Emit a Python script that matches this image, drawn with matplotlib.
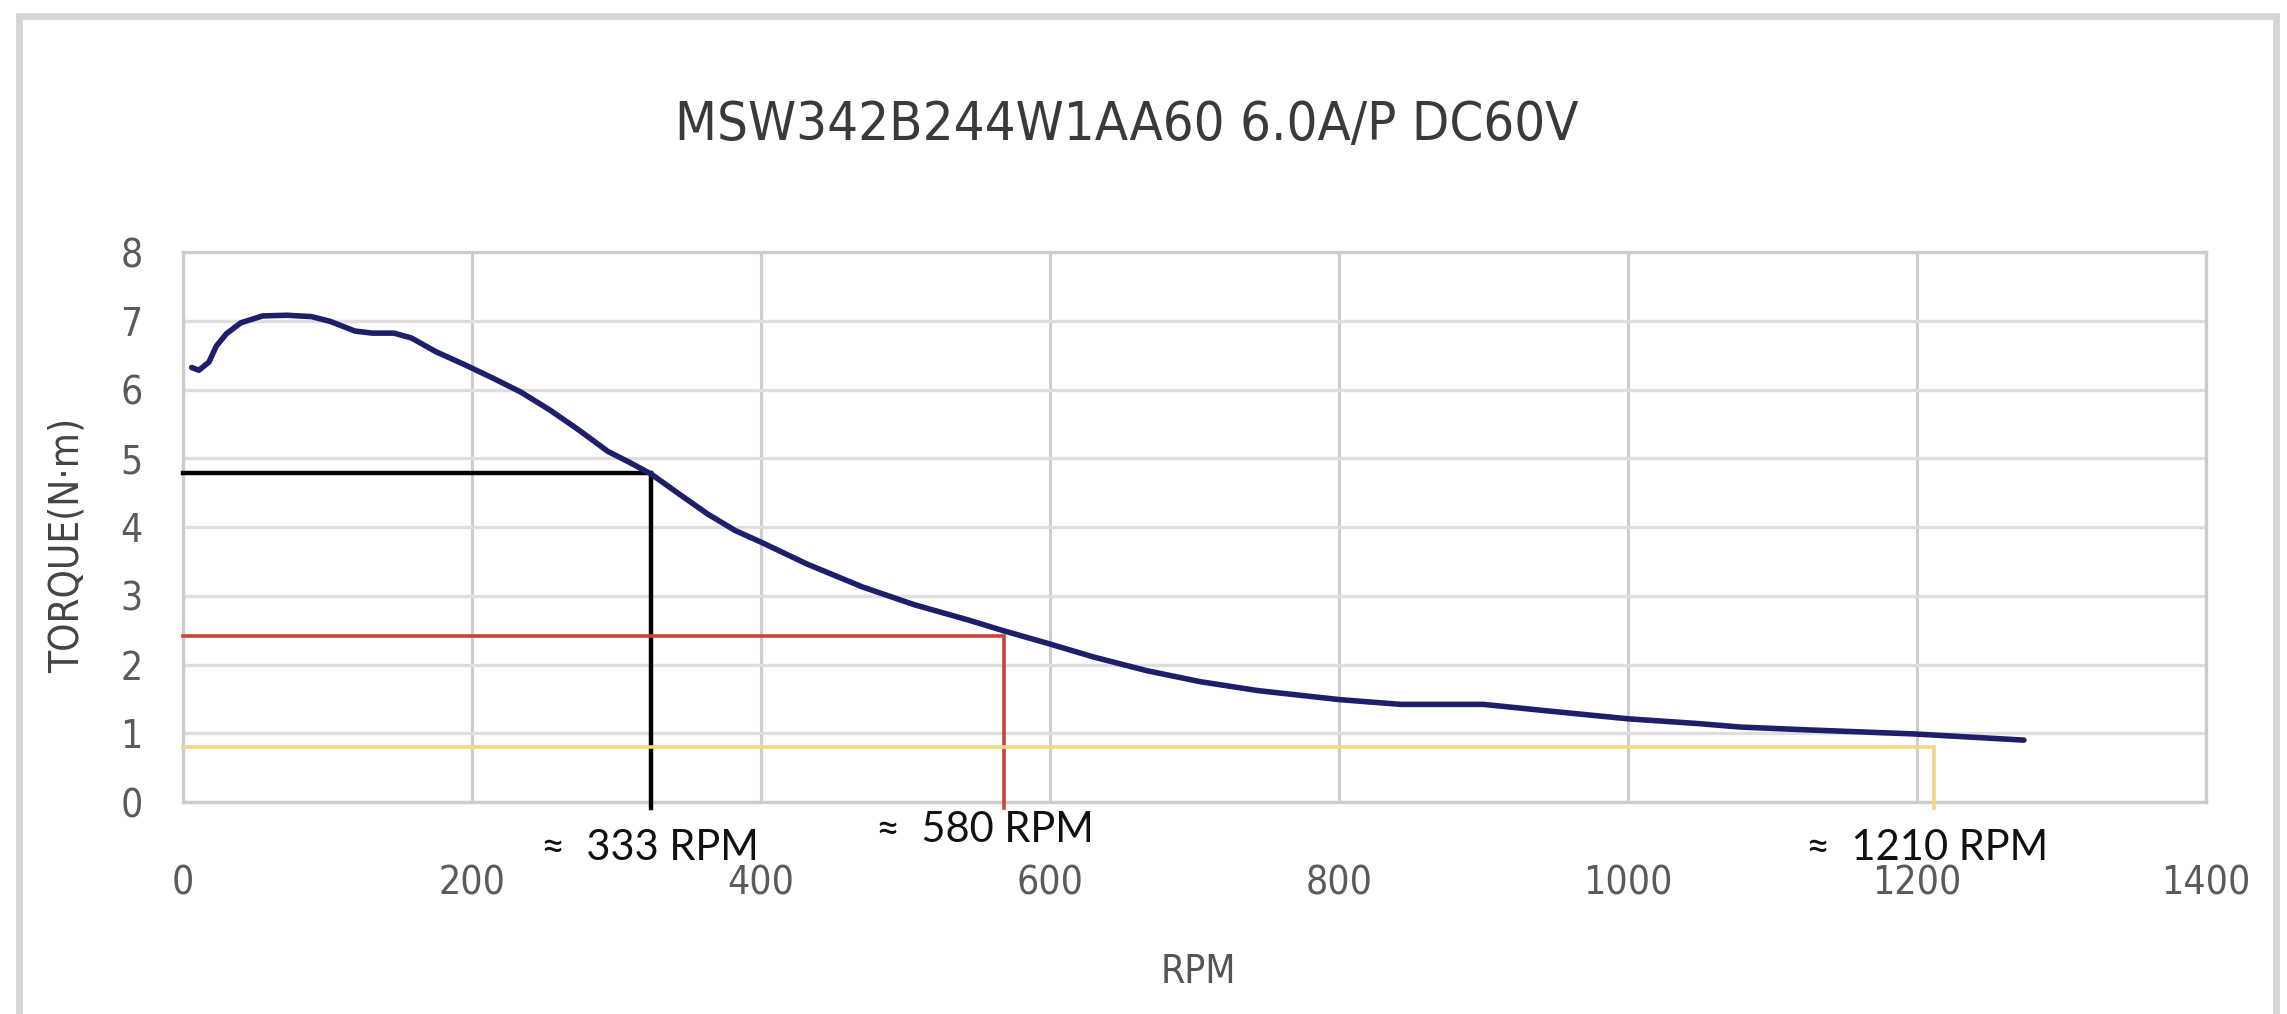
import matplotlib
matplotlib.use("Agg")
import matplotlib.pyplot as plt
from matplotlib.patches import Rectangle

# ---- data ----
rpm = [6, 11, 18, 23, 30, 40, 55, 72, 89, 102, 119, 131, 146, 158, 175, 195,
       214, 234, 254, 274, 294, 309, 324, 344, 363, 382, 400, 432, 470, 506,
       543, 568, 598, 630, 667, 704, 744, 800, 818, 843, 900, 942, 1000, 1028,
       1049, 1078, 1123, 1198, 1274]
torque = [6.32, 6.28, 6.40, 6.63, 6.81, 6.97, 7.07, 7.08, 7.06, 6.99, 6.85,
          6.82, 6.82, 6.75, 6.55, 6.36, 6.17, 5.96, 5.70, 5.41, 5.10, 4.94,
          4.77, 4.47, 4.19, 3.95, 3.78, 3.46, 3.13, 2.87, 2.65, 2.49, 2.31,
          2.11, 1.91, 1.75, 1.62, 1.49, 1.46, 1.42, 1.42, 1.33, 1.21, 1.17,
          1.14, 1.09, 1.05, 0.99, 0.90]

marker_rpm = [324, 568, 1212]
marker_torque = [4.78, 2.41, 0.80]
marker_labels = ["\u2248  333 RPM", "\u2248  580 RPM", "\u2248  1210 RPM"]
marker_colors = ["#000000", "#c9433a", "#f2d585"]

x_ticks = [0, 200, 400, 600, 800, 1000, 1200, 1400]
y_ticks = [0, 1, 2, 3, 4, 5, 6, 7, 8]

title = "MSW342B244W1AA60 6.0A/P DC60V"
xlabel = "RPM"
ylabel = "TORQUE(N\u00b7m)"

plt.rcParams['font.family'] = ["DejaVu Sans"]
plt.rcParams['font.stretch'] = "condensed"

W, H = 2287, 1014
fig = plt.figure(figsize=(W / 100, H / 100), dpi=100)
fig.patch.set_facecolor("white")

# outer light-gray frame (bottom edge runs off the picture)
fig.patches.append(Rectangle((19 / W, -20 / H), (2276 - 19) / W, (1014 - 16 + 20) / H,
                             transform=fig.transFigure, fill=False,
                             edgecolor="#d6d6d6", linewidth=5))

ax = fig.add_axes([183 / W, 1 - 802 / H, (2206 - 183) / W, (802 - 252) / H])
ax.set_xlim(0, 1400)
ax.set_ylim(0, 8)

ax.set_xticks(x_ticks)
ax.set_yticks(y_ticks)
ax.set_xticklabels([str(v) for v in x_ticks])
ax.set_yticklabels([str(v) for v in y_ticks])
ax.tick_params(axis="both", length=0, labelcolor="#5a5a5a", labelsize=28)
ax.tick_params(axis="x", pad=45)
ax.tick_params(axis="y", pad=29)

ax.grid(axis="y", color="#dedede", linewidth=2.4)
ax.grid(axis="x", color="#cdcdcd", linewidth=2.2)
ax.set_axisbelow(True)
for s in ax.spines.values():
    s.set_color("#cccccc")
    s.set_linewidth(2.4)

# reference lines
for xr, yr, c in zip(marker_rpm, marker_torque, marker_colors):
    lw = 3.2 if c == "#000000" else 2.6
    ax.plot([0, xr, xr], [yr, yr, -0.08], color=c, linewidth=lw,
            solid_joinstyle="miter", clip_on=False, zorder=3)

# torque curve
ax.plot(rpm, torque, color="#1e1e6a", linewidth=4.0, solid_capstyle="round",
        solid_joinstyle="round", zorder=4)

# annotations
label_pos = [(650, 848), (985, 830), (1927, 848)]
for (px, py), txt in zip(label_pos, marker_labels):
    xd = (px - 183) / (2206 - 183) * 1400
    yd = (802 - py) / (802 - 252) * 8
    ax.text(xd, yd, txt, ha="center", va="center", fontsize=30,
            family=["Lato", "DejaVu Sans"], fontstretch="normal",
            color="#111111", clip_on=False)

fig.text(1127 / W, 1 - 125 / H, title, ha="center", va="center",
         fontsize=39, color="#3a3a3a")
fig.text(1198 / W, 1 - 972 / H, xlabel, ha="center", va="center",
         fontsize=28, color="#555555")
fig.text(68 / W, 1 - 545 / H, ylabel, ha="center", va="center",
         rotation=90, fontsize=29, color="#444444")

fig.savefig("out.png", dpi=100, facecolor="white")
